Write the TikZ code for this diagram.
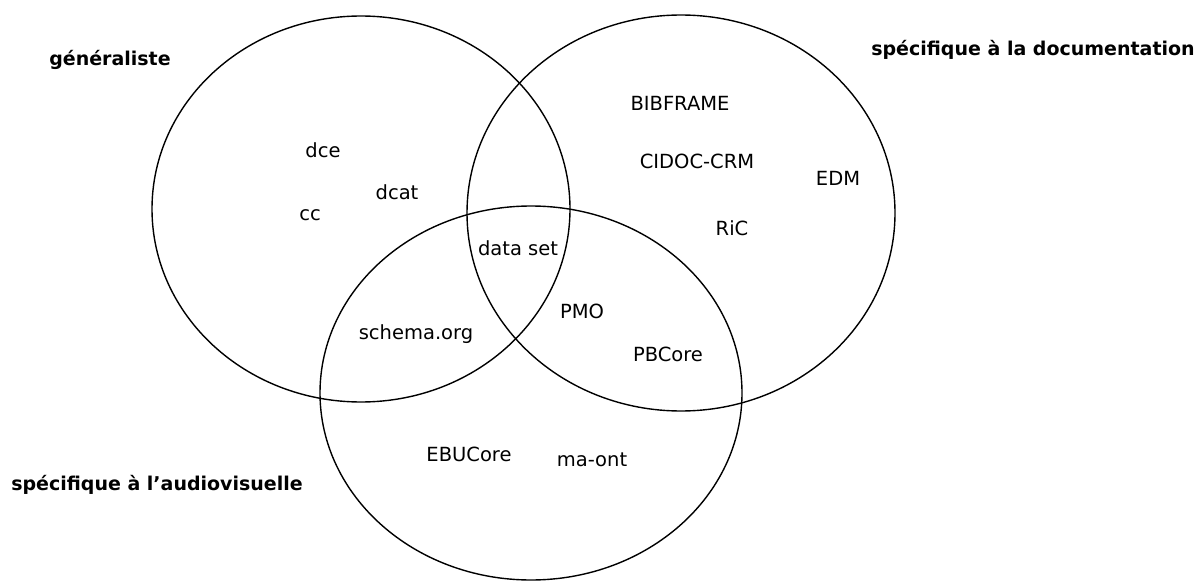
\documentclass[tikz,border=0pt]{standalone}
\usepackage{fontspec}
\setmainfont{DejaVu Sans}
\usetikzlibrary{shapes.geometric}
\begin{document}
\begin{tikzpicture}[x=1pt,y=-1pt,
  setring/.style={draw=black, line width=1.4pt, ellipse, inner sep=0pt, fill=none},
  item/.style={font=\fontsize{19.5}{22}\selectfont, inner sep=0pt, anchor=center},
  heading/.style={font=\fontsize{19}{22}\selectfont\bfseries, inner sep=0pt, anchor=center}]
  \useasboundingbox (0,0) rectangle (1200,583);
  % the three sets
  \node[setring, minimum width=418pt, minimum height=386pt] (gen) at (361,209) {};
  \node[setring, minimum width=428pt, minimum height=396pt] (doc) at (681,213) {};
  \node[setring, minimum width=422pt, minimum height=374pt] (av)  at (531,393) {};
  % set titles
  \node[heading] (tgen) at (110,60)  {généraliste};
  \node[heading] (tdoc) at (1033,50) {spécifique à la documentation};
  \node[heading] (tav)  at (157,485) {spécifique à l’audiovisuelle};
  % vocabularies
  \node[item] (dce)  at (323,150) {dce};
  \node[item] (dcat) at (397,192) {dcat};
  \node[item] (cc)   at (310,215) {cc};
  \node[item] (ds)   at (518,248) {data set};
  \node[item] (bib)  at (680,103) {BIBFRAME};
  \node[item] (cid)  at (697,161) {CIDOC-CRM};
  \node[item] (edm)  at (838,178) {EDM};
  \node[item] (ric)  at (732,228) {RiC};
  \node[item] (pmo)  at (582,311) {PMO};
  \node[item] (sch)  at (416,334) {schema.org};
  \node[item] (pbc)  at (668,354) {PBCore};
  \node[item] (ebu)  at (469,454) {EBUCore};
  \node[item] (ma)   at (592,460) {ma-ont};
\end{tikzpicture}
\end{document}
